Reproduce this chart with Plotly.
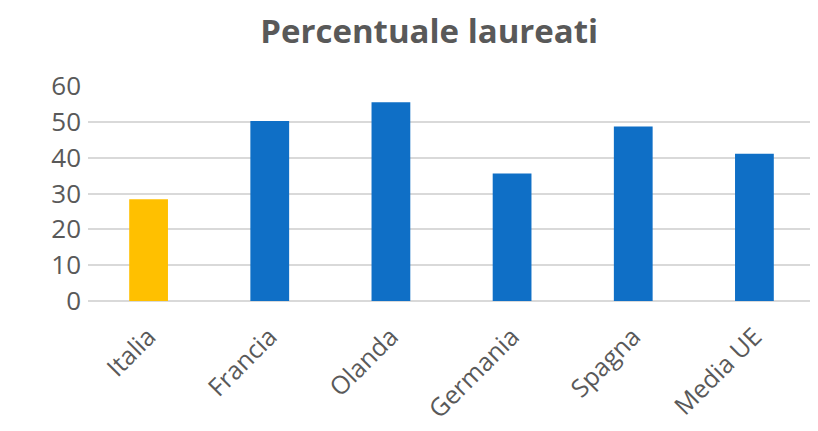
import plotly.graph_objects as go

categories = ["Italia", "Francia", "Olanda", "Germania", "Spagna", "Media UE"]
values = [28.4, 50.2, 55.5, 35.6, 48.7, 41.1]
bar_colors = ["#FFC000", "#0F6FC6", "#0F6FC6", "#0F6FC6", "#0F6FC6", "#0F6FC6"]
y_ticks = [0, 10, 20, 30, 40, 50, 60]

fig = go.Figure(
    go.Bar(
        x=categories,
        y=values,
        marker=dict(color=bar_colors, line=dict(width=0)),
    )
)

fig.update_layout(
    width=810,
    height=423,
    margin=dict(l=80, r=3, t=78, b=130),
    paper_bgcolor="white",
    plot_bgcolor="white",
    bargap=0.68,
    showlegend=False,
    font=dict(family="Open Sans", color="#595959"),
    title=dict(
        text="<b>Percentuale laureati</b>",
        x=0.52,
        xanchor="center",
        y=0.945,
        yanchor="middle",
        font=dict(size=33, color="#595959", family="Open Sans"),
    ),
)

fig.update_xaxes(
    tickangle=-45,
    tickfont=dict(size=25, color="#595959"),
    showgrid=False,
    showline=False,
    ticks="",
    ticklabelstandoff=15,
    automargin=False,
)
fig.update_yaxes(
    range=[0, 60],
    tickvals=y_ticks,
    tickfont=dict(size=26, color="#595959"),
    showgrid=True,
    gridcolor="#D9D9D9",
    gridwidth=1.5,
    zeroline=True,
    zerolinecolor="#D9D9D9",
    zerolinewidth=1.5,
    ticks="",
    ticklabelstandoff=6,
    automargin=False,
)

fig.write_html("out.html")
